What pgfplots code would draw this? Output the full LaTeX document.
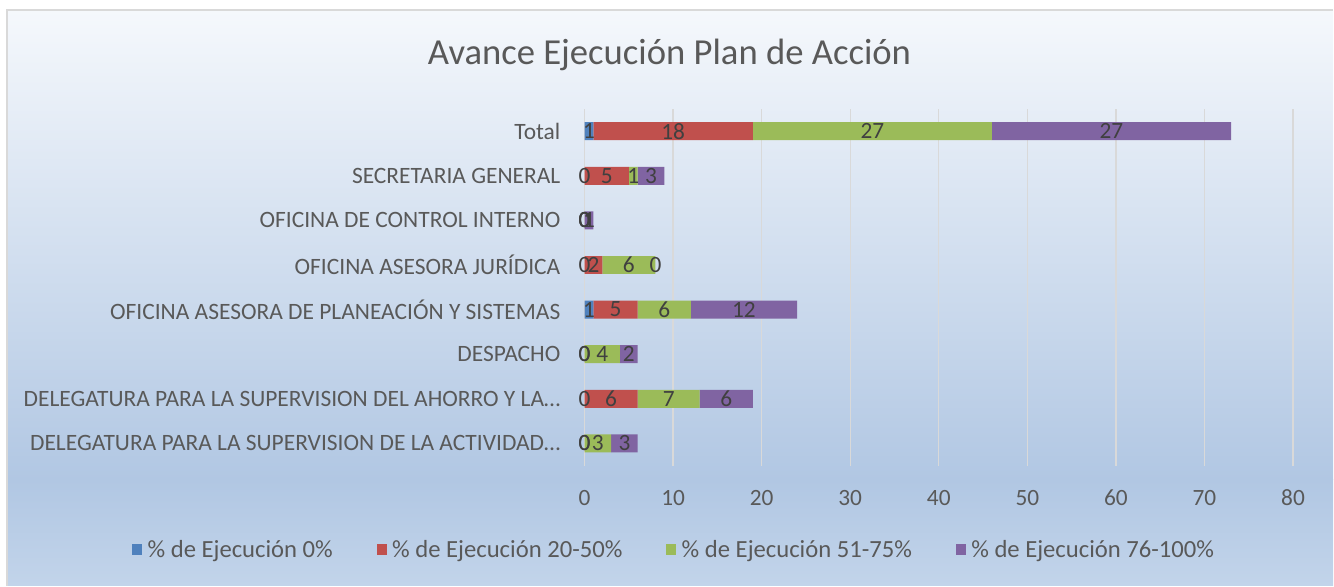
\documentclass[border=0pt]{standalone}
\usepackage{pgfplots}
\pgfplotsset{compat=1.18}
\usepackage{fontspec}
\setmainfont{Carlito}
\definecolor{cBlue}{HTML}{4F81BD}
\definecolor{cRed}{HTML}{C0504D}
\definecolor{cGreen}{HTML}{9BBB59}
\definecolor{cPurple}{HTML}{8064A2}
\definecolor{txt}{HTML}{595959}
\definecolor{lbl}{HTML}{404040}
\definecolor{gridc}{HTML}{D9D9D9}
\definecolor{bgTop}{HTML}{F5F8FC}
\definecolor{bgMid}{HTML}{B1C7E3}
\definecolor{bgBot}{HTML}{C2D4EA}
\pgfplotsset{/pgf/number format/assume math mode=true}
\pgfplotstableread{
y b0 b1 b2 b3
0 0 0 3 3
1 0 6 7 6
2 0 0 4 2
3 1 5 6 12
4 0 2 6 0
5 0 0 0 1
6 0 5 1 3
7 1 18 27 27
}\datatab
\pgfplotsset{
  commonaxis/.style={
    at={(438.75pt,-349.5pt)}, anchor=south west,
    scale only axis, width=531.75pt, height=267.75pt,
    xbar stacked, bar width=13.5pt,
    xmin=0, xmax=80, ymin=-0.5, ymax=7.5,
  }
}
\begin{document}
\begin{tikzpicture}
\fill[white] (0pt,0pt) rectangle (1000.5pt,-439.5pt);
\shade[top color=bgTop, bottom color=bgMid] (5.25pt,-7.5pt) rectangle (1000.5pt,-360pt);
\shade[top color=bgMid, bottom color=bgBot] (5.25pt,-360pt) rectangle (1000.5pt,-439.5pt);
\draw[gridc, line width=1.5pt] (5.25pt,-439.5pt) -- (5.25pt,-7.5pt) -- (1000.5pt,-7.5pt);
\node[text=txt, font=\fontsize{27.5pt}{32pt}\selectfont] at (502.5pt,-41.25pt) {Avance Ejecución Plan de Acción};
\begin{axis}[
  commonaxis,
  xtick={0,10,...,80}, ytick={0,...,7},
  yticklabels={DELEGATURA PARA LA SUPERVISION DE LA ACTIVIDAD…,
    DELEGATURA PARA LA SUPERVISION DEL AHORRO Y LA…,
    DESPACHO,
    OFICINA ASESORA DE PLANEACIÓN Y SISTEMAS,
    OFICINA ASESORA JURÍDICA,
    OFICINA DE CONTROL INTERNO,
    SECRETARIA GENERAL,
    Total},
  axis line style={draw=none},
  major tick length=0pt,
  xmajorgrids, ymajorgrids=false,
  grid style={gridc, line width=1pt},
  xticklabel style={text=txt, font=\fontsize{17.5pt}{20pt}\selectfont, inner sep=0pt, yshift=-18pt},
  yticklabel style={text=txt, font=\fontsize{17.6pt}{20pt}\selectfont, inner sep=0pt, xshift=-18pt},
  legend style={at={(0.127,-0.235)}, anchor=center, legend columns=4, draw=none, fill=none,
     font=\fontsize{18.5pt}{21pt}\selectfont, text=txt,
     /tikz/every even column/.append style={column sep=31pt},
     legend cell align=left},
  legend image code/.code={\fill[#1] (0pt,-4.5pt) rectangle (7.5pt,4.5pt); \path (9.5pt,0pt);},
]
\addplot[fill=cBlue, draw=none] table[x=b0, y=y] {\datatab};
\addplot[fill=cRed, draw=none] table[x=b1, y=y] {\datatab};
\addplot[fill=cGreen, draw=none] table[x=b2, y=y] {\datatab};
\addplot[fill=cPurple, draw=none] table[x=b3, y=y] {\datatab};
\legend{\% de Ejecución 0\%, \% de Ejecución 20-50\%, \% de Ejecución 51-75\%, \% de Ejecución 76-100\%}
\end{axis}
\begin{axis}[
  commonaxis, hide axis,
  stacked ignores zero=false,
  nodes near coords,
  point meta=rawx,
  every node near coord/.append style={anchor=center, inner sep=0pt, text=lbl,
     font=\fontsize{17.5pt}{20pt}\selectfont},
]
\addplot[fill=none, draw=none] table[x=b0, y=y] {\datatab};
\addplot[fill=none, draw=none] table[x=b1, y=y] {\datatab};
\addplot[fill=none, draw=none] table[x=b2, y=y] {\datatab};
\addplot[fill=none, draw=none] table[x=b3, y=y] {\datatab};
\end{axis}
\end{tikzpicture}
\end{document}
